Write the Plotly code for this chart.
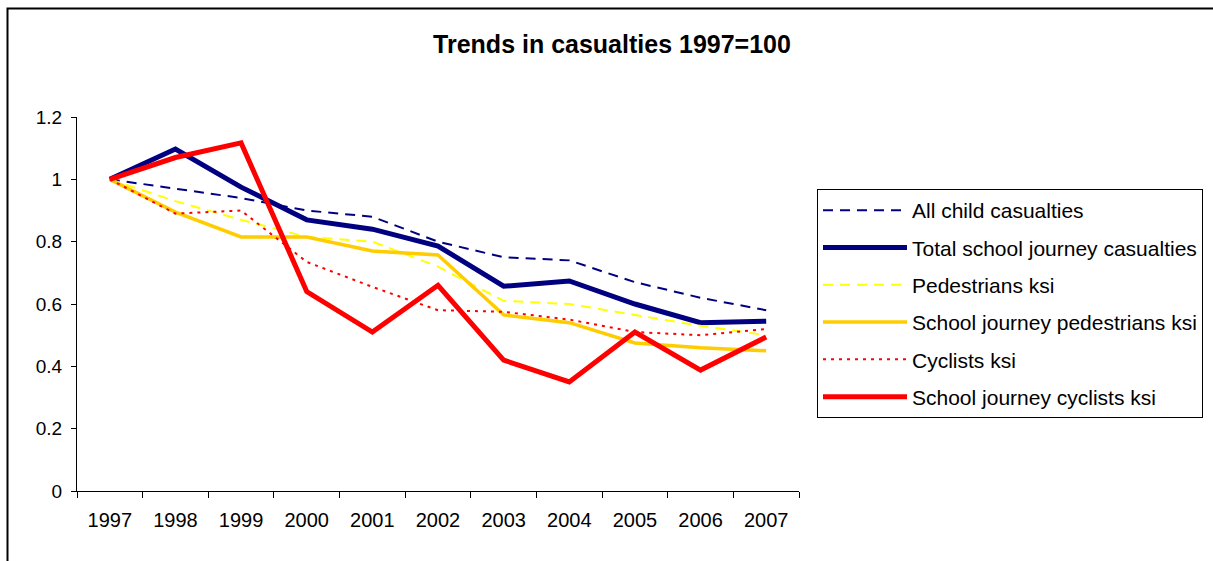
import plotly.graph_objects as go

years = ["1997", "1998", "1999", "2000", "2001", "2002", "2003", "2004", "2005", "2006", "2007"]

all_child = [1.0, 0.97, 0.94, 0.90, 0.88, 0.80, 0.75, 0.74, 0.67, 0.62, 0.58]
total_school = [1.0, 1.097, 0.975, 0.87, 0.84, 0.786, 0.657, 0.674, 0.60, 0.54, 0.545]
pedestrians = [1.0, 0.93, 0.87, 0.815, 0.80, 0.72, 0.61, 0.60, 0.565, 0.53, 0.50]
school_ped = [1.0, 0.895, 0.815, 0.815, 0.77, 0.757, 0.565, 0.54, 0.475, 0.46, 0.45]
cyclists = [1.0, 0.89, 0.90, 0.735, 0.655, 0.58, 0.575, 0.55, 0.51, 0.50, 0.52]
school_cyc = [1.0, 1.07, 1.117, 0.64, 0.51, 0.66, 0.42, 0.35, 0.51, 0.388, 0.494]

series = [
    ("All child casualties", all_child, "#000080", 2, "10px,7px"),
    ("Total school journey casualties", total_school, "#000080", 5, "solid"),
    ("Pedestrians ksi", pedestrians, "#FFFF00", 2, "10px,7px"),
    ("School journey pedestrians ksi", school_ped, "#FFCC00", 3.5, "solid"),
    ("Cyclists ksi", cyclists, "#FF0000", 2, "3px,5px"),
    ("School journey cyclists ksi", school_cyc, "#FF0000", 5, "solid"),
]

fig = go.Figure()
for i, (name, vals, color, width, dash) in enumerate(series):
    fig.add_trace(go.Scatter(
        x=years, y=vals, name=name, mode="lines",
        line=dict(color=color, width=width, dash=dash),
        legendgroup=f"g{i}",
    ))

font = "Liberation Sans, Arial, sans-serif"

fig.update_layout(
    width=1213, height=561,
    margin=dict(l=77, r=414, t=117, b=70, autoexpand=False),
    paper_bgcolor="white", plot_bgcolor="white",
    font=dict(family=font, color="black", size=19),
    title=dict(text="<b>Trends in casualties 1997=100</b>", x=612/1213, xref="container",
               xanchor="center", y=1 - 44/561, yanchor="middle",
               font=dict(size=25, family=font, color="black")),
    showlegend=True,
    legend=dict(x=(817-77)/722, xanchor="left", y=(491-189)/374, yanchor="top",
                bordercolor="black", borderwidth=1, bgcolor="white",
                font=dict(size=21, family=font), traceorder="grouped",
                tracegroupgap=7, itemwidth=84),
    xaxis=dict(type="category", tickson="boundaries", ticks="outside", ticklen=6,
               tickcolor="black", showline=True, linecolor="black", linewidth=1,
               showgrid=False, zeroline=False, tickfont=dict(size=20),
               ticklabelstandoff=11, range=[-0.5, 10.5]),
    yaxis=dict(range=[0, 1.2], dtick=0.2, ticks="outside", ticklen=5, tickcolor="black",
               showline=True, linecolor="black", linewidth=1, showgrid=False,
               zeroline=False, tickfont=dict(size=19), ticklabelstandoff=5),
    shapes=[dict(type="rect", xref="paper", yref="paper",
                 x0=(7.5-77)/722, x1=(1220-77)/722,
                 y0=(491-570)/374, y1=(491-8.5)/374,
                 line=dict(color="black", width=2), fillcolor="rgba(0,0,0,0)", layer="below")],
)

fig.write_html("out.html", config={"displayModeBar": False},
               post_script="document.body.style.margin='0';document.body.style.overflow='hidden';")
